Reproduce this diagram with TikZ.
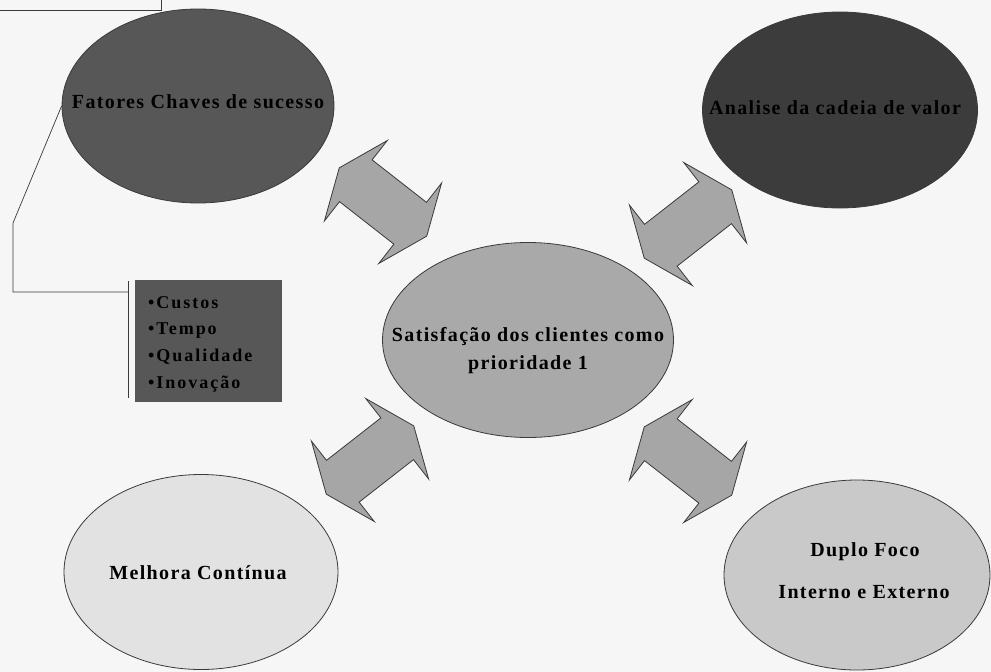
\documentclass[tikz,border=0pt]{standalone}
\usepackage{fontspec}
\setmainfont{Liberation Serif}
\newfontfamily\labelfont[LetterSpace=6.8]{Liberation Serif}
\newfontfamily\listfont[LetterSpace=11]{Liberation Serif}
\usetikzlibrary{shapes.geometric}

\definecolor{paper}{HTML}{F6F6F6}
\definecolor{keyfill}{HTML}{575757}
\definecolor{valuefill}{HTML}{3C3C3C}
\definecolor{hubfill}{HTML}{A9A9A9}
\definecolor{arrowfill}{HTML}{A6A6A6}
\definecolor{loopfill}{HTML}{E2E2E2}
\definecolor{focusfill}{HTML}{C9C9C9}
\definecolor{edge}{HTML}{3A3A3A}

\tikzset{
  bubble/.style={ellipse, draw=edge, line width=0.8pt, inner sep=0pt},
  lbl/.style={inner sep=0pt, align=center, text=black,
    font=\labelfont\bfseries\fontsize{20}{28}\selectfont},
  arrowbody/.style={draw=edge, line width=0.8pt, fill=arrowfill, line join=miter},
  leader/.style={draw=edge, line width=0.7pt},
  pics/dblarrow/.style={code={
    \path[arrowbody] (-55.5,0) -- (-34.5,51) -- (-34.5,26.5) -- (34.5,26.5) -- (34.5,51)
      -- (55.5,0) -- (34.5,-51) -- (34.5,-26.5) -- (-34.5,-26.5) -- (-34.5,-51) -- cycle;
  }}
}

\begin{document}
\begin{tikzpicture}[x=1pt,y=-1pt]
\fill[paper] (0,0) rectangle (991,672);
\useasboundingbox (0,0) rectangle (991,672);

% frame cut off at the top left corner
\draw[leader] (-2,-2) rectangle (161,10);

% the five ellipses
\node[bubble, fill=keyfill, minimum width=272pt, minimum height=194pt] (fcs) at (198,106) {};
\node[bubble, fill=valuefill, minimum width=275pt, minimum height=196pt] (acv) at (840,110) {};
\node[bubble, fill=hubfill, minimum width=291pt, minimum height=195pt] (hub) at (528,340) {};
\node[bubble, fill=loopfill, minimum width=274pt, minimum height=195pt] (mc) at (201,572) {};
\node[bubble, fill=focusfill, minimum width=266pt, minimum height=190pt] (df) at (857,575) {};

% their texts
\node[lbl] (fcstext) at (198,102) {Fatores Chaves de sucesso};
\node[lbl] (acvtext) at (835,108) {Analise da cadeia de valor};
\node[lbl] (hubtext) at (528,351) {Satisfação dos clientes como\\prioridade 1};
\node[lbl] (mctext) at (198,573) {Melhora Contínua};
\node[lbl] (dftexta) at (865,552) {Duplo Foco};
\node[lbl] (dftextb) at (864,592) {Interno e Externo};

% double block arrows around the hub
\pic[rotate=-38] at (383,202) {dblarrow};
\pic[rotate=38]  at (688,224) {dblarrow};
\pic[rotate=38]  at (370,460) {dblarrow};
\pic[rotate=-38] at (688,461) {dblarrow};

% callout with accent bar
\node[fill=keyfill, minimum width=147pt, minimum height=122pt, inner sep=0pt] (factors) at (208.5,341) {};
\node[anchor=north west, inner sep=0pt, align=left,
      font=\listfont\bfseries\fontsize{18}{26.7}\selectfont] (factorlist) at (148,296)
  {•Custos\\•Tempo\\•Qualidade\\•Inovação};
\coordinate (bend1) at (13,223);
\coordinate (bend2) at (13,292);
\coordinate (bartop) at (128,281);
\coordinate (barbot) at (128,398);
\coordinate (barmid) at (128,292);
\draw[leader] (fcs.west) -- (bend1) -- (bend2) -- (barmid);
\draw[leader] (bartop) -- (barbot);
\end{tikzpicture}
\end{document}
